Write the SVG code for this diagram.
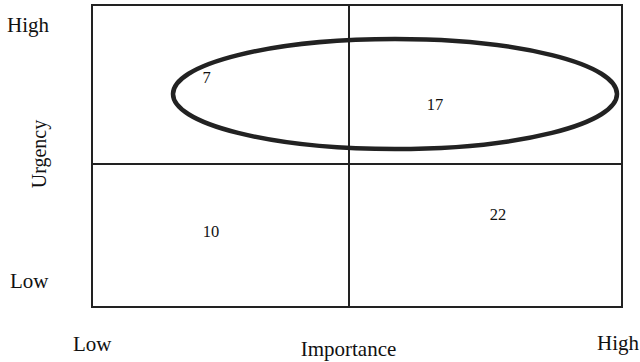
<svg xmlns="http://www.w3.org/2000/svg" width="640" height="362" viewBox="0 0 640 362">
<style>
.lbl{font-family:"Liberation Serif","Times New Roman",serif;font-size:21px;fill:#111}
.num{font-family:"Liberation Serif","Times New Roman",serif;font-size:16.5px;fill:#111}
.ln{stroke:#222;stroke-width:2;fill:none}
</style>
<rect width="640" height="362" fill="#fff"/>
<g id="grid">
<rect class="ln" x="92" y="5" width="530" height="302"/>
<line class="ln" x1="92" y1="164" x2="622" y2="164"/>
<line class="ln" x1="349" y1="5" x2="349" y2="307"/>
</g>
<g id="ellipse">
<ellipse cx="395" cy="94" rx="222" ry="55" fill="none" stroke="#222" stroke-width="4.5"/>
</g>
<g id="numbers">
<text class="num" x="206.5" y="82.5" text-anchor="middle">7</text>
<text class="num" x="435" y="109.5" text-anchor="middle">17</text>
<text class="num" x="211" y="236.5" text-anchor="middle">10</text>
<text class="num" x="498" y="220" text-anchor="middle">22</text>
</g>
<g id="axes">
<text class="lbl" x="7" y="32">High</text>
<text class="lbl" x="10" y="288">Low</text>
<text class="lbl" style="font-size:20px" transform="translate(46,154) rotate(-90)" text-anchor="middle">Urgency</text>
<text class="lbl" x="73" y="351">Low</text>
<text class="lbl" x="348.5" y="356" text-anchor="middle">Importance</text>
<text class="lbl" x="597" y="350">High</text>
</g>
</svg>
